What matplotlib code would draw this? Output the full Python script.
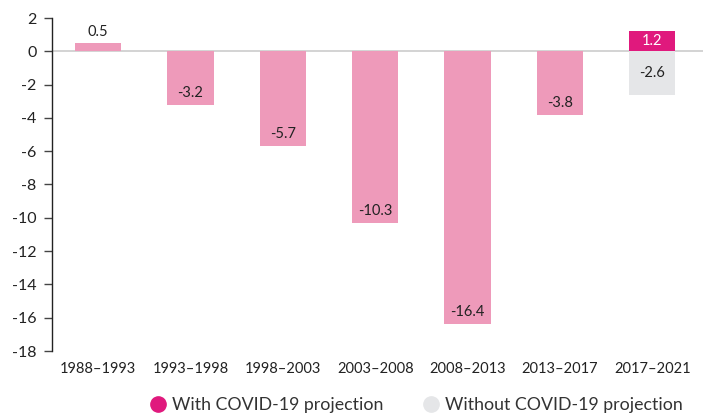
import matplotlib
matplotlib.use("Agg")
import matplotlib.pyplot as plt
from matplotlib.lines import Line2D

plt.rcParams['font.family'] = ['Lato', 'DejaVu Sans']

categories = ["1988–1993", "1993–1998", "1998–2003", "2003–2008", "2008–2013", "2013–2017", "2017–2021"]
values = [0.5, -3.2, -5.7, -10.3, -16.4, -3.8]
with_covid = 1.2
without_covid = -2.6
yticks = list(range(2, -19, -2))

pink = "#EE9ABA"
magenta = "#E0197D"
grey = "#E5E6E8"

fig = plt.figure(figsize=(7.03, 4.19), dpi=100)
ax = fig.add_axes([52/703, 1 - 351/419, 1 - 52/703, (351 - 18)/419])

ax.axhline(0, color="#CCCCCC", lw=1.2, zorder=1)
x = list(range(len(values)))
bars = ax.bar(x, values, width=0.5, color=pink, zorder=2)
for xi, v in zip(x, values):
    if v >= 0:
        ax.text(xi, v + 0.25, f"{v}", ha="center", va="bottom", fontsize=10.5, color="#222222")
    else:
        ax.text(xi, v + 0.3, f"{v}", ha="center", va="bottom", fontsize=10.5, color="#222222")

last = len(values)
ax.bar([last], [with_covid], width=0.5, color=magenta, zorder=2)
ax.bar([last], [without_covid], width=0.5, color=grey, zorder=2)
ax.text(last, with_covid / 2, f"{with_covid}", ha="center", va="center", fontsize=10.5, color="white")
ax.text(last, without_covid / 2, f"{without_covid}", ha="center", va="center", fontsize=10.5, color="#222222")

ax.set_ylim(-18, 2)
ax.set_xlim(-0.5, 6.55)
ax.set_yticks(yticks)
ax.set_yticklabels([str(t) for t in yticks], fontsize=11.5, color="#222222")
ax.set_xticks(range(len(categories)))
ax.set_xticklabels(categories, fontsize=10.5, color="#222222")
ax.tick_params(axis="x", length=0, pad=8)
ax.tick_params(axis="y", length=6, width=1, color="#444444", pad=5)
for s in ["top", "right", "bottom"]:
    ax.spines[s].set_visible(False)
ax.spines["left"].set_color("#222222")
ax.spines["left"].set_linewidth(1)

handles = [
    Line2D([], [], marker="o", ls="none", markersize=11, markerfacecolor=magenta, markeredgecolor=magenta),
    Line2D([], [], marker="o", ls="none", markersize=11, markerfacecolor=grey, markeredgecolor=grey),
]
fig.legend(handles, ["With COVID-19 projection", "Without COVID-19 projection"],
           loc="center", bbox_to_anchor=(416/703, 1 - 405/419), ncol=2, frameon=False,
           fontsize=12.8, handletextpad=0.3, columnspacing=2.15, handlelength=1.0,
           labelcolor="#333333")

fig.savefig("out.png", dpi=100)
